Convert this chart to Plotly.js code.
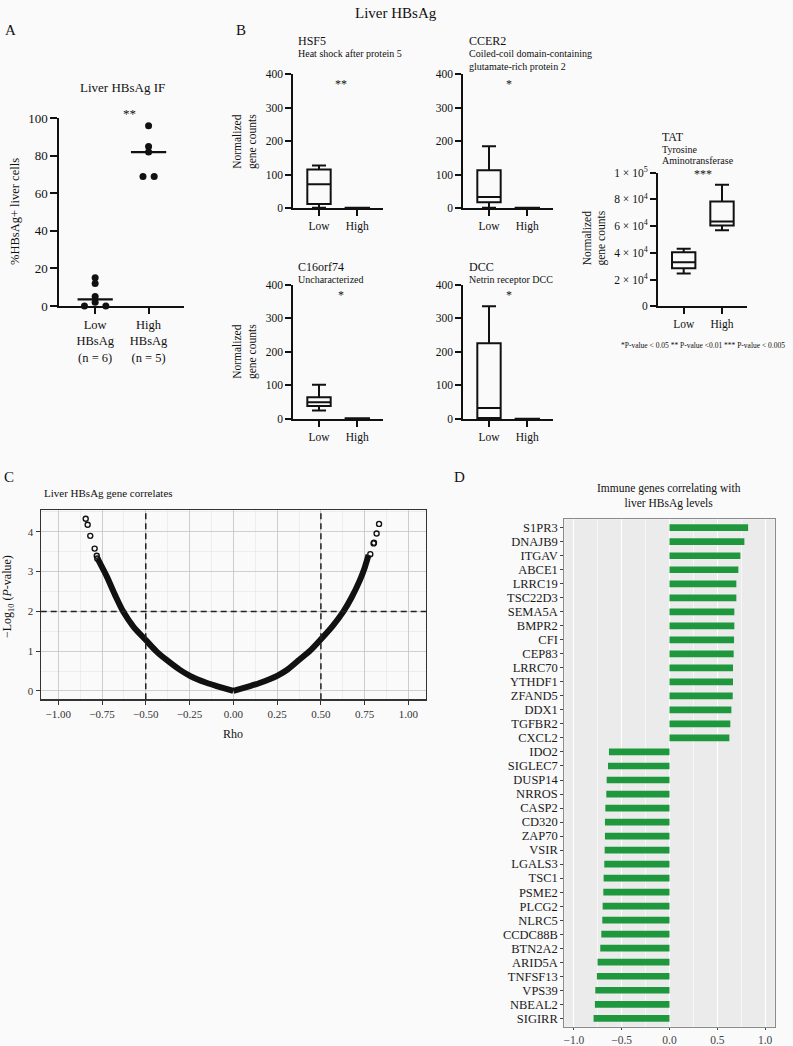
<!DOCTYPE html>
<html>
<head>
<meta charset="utf-8">
<script src="https://cdn.plot.ly/plotly-3.0.1.min.js"></script>
<style>
  html, body { margin: 0; padding: 0; background: #fafafa; }
  #chart { width: 793px; height: 1046px; }
</style>
</head>
<body>
<div id="chart"></div>
<script>
// ---------------- DATA ----------------
// Panel A: % HBsAg+ liver cells
const aGroups = ['Low<br>HBsAg<br>(n = 6)', 'High<br>HBsAg<br>(n = 5)'];
const aLow = [15, 12, 5, 2, 0, 0];
const aHigh = [96, 85, 82, 69, 69];

// Panel B: box stats [min, q1, median, q3, max]
const boxGroups = ['Low', 'High'];
const hsf5Low = [1, 12, 71, 115, 127];
const hsf5High = [0, 0, 0.5, 1, 1];
const ccer2Low = [1, 17, 33, 113, 184];
const ccer2High = [0, 0, 0.5, 1, 1];
const c16Low = [25, 39, 50, 65, 102];
const c16High = [0, 1, 1.5, 2, 2.5];
const dccLow = [0, 3, 33, 225, 335];
const dccHigh = [0, 0, 0.5, 1, 1];
const tatLow = [24500, 28500, 33000, 40500, 43000];
const tatHigh = [57000, 60500, 63500, 78500, 91000];
const boxTicks = [0, 100, 200, 300, 400];
const tatTickVals = [0, 20000, 40000, 60000, 80000, 100000];
const tatTickText = ['0', '2 × 10<sup>4</sup>', '4 × 10<sup>4</sup>', '6 × 10<sup>4</sup>', '8 × 10<sup>4</sup>', '1 × 10<sup>5</sup>'];

// Panel C: -log10(P) vs Rho
const cLeftRho = [-0.775, -0.76, -0.723, -0.675, -0.628, -0.571, -0.5, -0.438, -0.381, -0.305, -0.248, -0.21, -0.15, -0.1, -0.05, 0];
const cLeftVal = [3.33, 3.2, 2.88, 2.41, 1.99, 1.62, 1.28, 0.99, 0.78, 0.53, 0.38, 0.3, 0.2, 0.13, 0.065, 0];
const cRightRho = [0, 0.05, 0.1, 0.15, 0.21, 0.25, 0.31, 0.378, 0.44, 0.5, 0.57, 0.626, 0.675, 0.722, 0.75, 0.772];
const cRightVal = [0, 0.065, 0.13, 0.2, 0.3, 0.38, 0.54, 0.79, 1.02, 1.3, 1.65, 1.98, 2.35, 2.78, 3.1, 3.42];
const cOutRho = [-0.843, -0.832, -0.817, -0.792, -0.780, -0.777, 0.832, 0.818, 0.803, 0.801, 0.782];
const cOutVal = [4.33, 4.18, 3.9, 3.58, 3.4, 3.33, 4.2, 3.96, 3.73, 3.71, 3.44];
const cRhoCut = [-0.5, 0.5];
const cLogPCut = [2];

// Panel D: immune genes correlating with liver HBsAg
const dGenes = ['S1PR3','DNAJB9','ITGAV','ABCE1','LRRC19','TSC22D3','SEMA5A','BMPR2','CFI','CEP83','LRRC70','YTHDF1','ZFAND5','DDX1','TGFBR2','CXCL2',
  'IDO2','SIGLEC7','DUSP14','NRROS','CASP2','CD320','ZAP70','VSIR','LGALS3','TSC1','PSME2','PLCG2','NLRC5','CCDC88B','BTN2A2','ARID5A','TNFSF13','VPS39','NBEAL2','SIGIRR'];
const dRho = [0.822,0.783,0.741,0.72,0.699,0.699,0.678,0.678,0.675,0.671,0.664,0.664,0.661,0.647,0.636,0.626,
  -0.633,-0.643,-0.657,-0.661,-0.671,-0.675,-0.675,-0.678,-0.682,-0.689,-0.692,-0.699,-0.703,-0.713,-0.724,-0.752,-0.759,-0.776,-0.78,-0.794];

// ---------------- HELPERS ----------------
const W = 793, H = 1046;
const FONT = '"Liberation Serif", "DejaVu Serif", serif';
const INK = '#111';
const fx = p => p / W;
const fy = p => 1 - p / H;
const dX = (a, b) => [fx(a), fx(b)];
const dY = (top, bottom) => [fy(bottom), fy(top)];
const median = arr => { const s = [...arr].sort((a,b)=>a-b); const n = s.length; return n % 2 ? s[(n-1)/2] : (s[n/2-1] + s[n/2]) / 2; };

function boxTrace(lo, hi, xa, ya) {
  return {
    type: 'box', xaxis: xa, yaxis: ya, x: [0, 1],
    lowerfence: [lo[0], hi[0]], q1: [lo[1], hi[1]], median: [lo[2], hi[2]],
    q3: [lo[3], hi[3]], upperfence: [lo[4], hi[4]],
    width: 0.61, whiskerwidth: 0.6, boxpoints: false,
    line: { color: INK, width: 2 }, fillcolor: 'rgba(0,0,0,0)',
    hoverinfo: 'skip', showlegend: false
  };
}

function prismX(domain, anchor, ticktext, fontSize) {
  return {
    domain, anchor, range: [-0.671, 1.663], showline: true, linecolor: INK, linewidth: 2,
    ticks: 'outside', ticklen: 6, tickwidth: 2, tickcolor: INK,
    tickvals: [0, 1], ticktext, showgrid: false, zeroline: false,
    tickfont: { family: FONT, size: fontSize || 11.5, color: INK }, fixedrange: true
  };
}
function prismY(domain, anchor, range, extra) {
  return Object.assign({
    domain, anchor, range, showline: true, linecolor: INK, linewidth: 2,
    ticks: 'outside', ticklen: 6, tickwidth: 2, tickcolor: INK,
    showgrid: false, zeroline: false,
    tickfont: { family: FONT, size: 11.5, color: INK }, fixedrange: true
  }, extra || {});
}

function ann(text, x, y, size, opts) {
  return Object.assign({
    text, x: fx(x), y: fy(y), xref: 'paper', yref: 'paper', showarrow: false,
    xanchor: 'center', yanchor: 'middle',
    font: { family: FONT, size, color: INK }
  }, opts || {});
}

// ---------------- TRACES ----------------
const traces = [];

// Panel A
const aLowJit = [0, 0, 0, 0, -0.2, 0.2];
const aHighJit = [0, 0, 0, -0.105, 0.105];
traces.push({
  type: 'scatter', mode: 'markers', xaxis: 'x', yaxis: 'y',
  x: aLow.map((v, i) => 0 + aLowJit[i]), y: aLow,
  marker: { color: INK, size: 7 }, cliponaxis: false, hoverinfo: 'skip', showlegend: false
});
traces.push({
  type: 'scatter', mode: 'markers', xaxis: 'x', yaxis: 'y',
  x: aHigh.map((v, i) => 1 + aHighJit[i]), y: aHigh,
  marker: { color: INK, size: 7 }, cliponaxis: false, hoverinfo: 'skip', showlegend: false
});
[aLow, aHigh].forEach((arr, i) => {
  const m = median(arr);
  traces.push({
    type: 'scatter', mode: 'lines', xaxis: 'x', yaxis: 'y',
    x: [i - 0.33, i + 0.33], y: [m, m], line: { color: INK, width: 2.2 },
    cliponaxis: false, hoverinfo: 'skip', showlegend: false
  });
});

// Panel B
traces.push(boxTrace(hsf5Low, hsf5High, 'x2', 'y2'));
traces.push(boxTrace(ccer2Low, ccer2High, 'x3', 'y3'));
traces.push(boxTrace(c16Low, c16High, 'x4', 'y4'));
traces.push(boxTrace(dccLow, dccHigh, 'x5', 'y5'));
traces.push(boxTrace(tatLow, tatHigh, 'x6', 'y6'));

// Panel C
traces.push({ type: 'scatter', mode: 'lines', xaxis: 'x7', yaxis: 'y7', x: cLeftRho, y: cLeftVal,
  line: { color: INK, width: 6, shape: 'spline', smoothing: 0.8 }, hoverinfo: 'skip', showlegend: false });
traces.push({ type: 'scatter', mode: 'lines', xaxis: 'x7', yaxis: 'y7', x: cRightRho, y: cRightVal,
  line: { color: INK, width: 6, shape: 'spline', smoothing: 0.8 }, hoverinfo: 'skip', showlegend: false });
traces.push({ type: 'scatter', mode: 'markers', xaxis: 'x7', yaxis: 'y7', x: cOutRho, y: cOutVal,
  marker: { symbol: 'circle-open', size: 5, color: INK, line: { width: 1.4, color: INK } },
  hoverinfo: 'skip', showlegend: false });

// Panel D
traces.push({
  type: 'bar', orientation: 'h', xaxis: 'x8', yaxis: 'y8', x: dRho, y: dGenes,
  width: 0.48, marker: { color: '#1f983d', line: { width: 0 } }, hoverinfo: 'skip', showlegend: false
});

// ---------------- LAYOUT ----------------
const shapes = [];
// panel D grey background
shapes.push({ type: 'rect', xref: 'x8 domain', yref: 'y8 domain', x0: 0, x1: 1, y0: 0, y1: 1,
  fillcolor: '#ebebeb', line: { width: 0 }, layer: 'below' });
cRhoCut.forEach(v => shapes.push({ type: 'line', xref: 'x7', yref: 'y7 domain', x0: v, x1: v, y0: 0, y1: 1,
  line: { color: '#222', width: 1.5, dash: '6px,4px' }, layer: 'above' }));
cLogPCut.forEach(v => shapes.push({ type: 'line', xref: 'x7 domain', yref: 'y7', x0: 0, x1: 1, y0: v, y1: v,
  line: { color: '#222', width: 1.5, dash: '6px,4px' }, layer: 'above' }));

const cTickVals = [-1, -0.75, -0.5, -0.25, 0, 0.25, 0.5, 0.75, 1];

const layout = {
  width: W, height: H, margin: { l: 0, r: 0, t: 0, b: 0 },
  paper_bgcolor: '#fafafa', plot_bgcolor: 'rgba(0,0,0,0)',
  showlegend: false, font: { family: FONT, color: INK },
  shapes,

  // A
  xaxis: prismX(dX(59.3, 184), 'y', aGroups, 12.5),
  yaxis: prismY(dY(118.3, 306), 'x', [0, 100], { dtick: 20, ticklen: 7, tickfont: { family: FONT, size: 13, color: INK } }),

  // B
  xaxis2: prismX(dX(293.3, 382.7), 'y2', boxGroups),
  yaxis2: prismY(dY(74, 208), 'x2', [0, 400], { tickvals: boxTicks }),
  xaxis3: prismX(dX(463.3, 552.7), 'y3', boxGroups),
  yaxis3: prismY(dY(74, 208), 'x3', [0, 400], { tickvals: boxTicks }),
  xaxis4: prismX(dX(293.3, 382.7), 'y4', boxGroups),
  yaxis4: prismY(dY(284.5, 419), 'x4', [0, 400], { tickvals: boxTicks }),
  xaxis5: prismX(dX(463.3, 552.7), 'y5', boxGroups),
  yaxis5: prismY(dY(284.5, 419), 'x5', [0, 400], { tickvals: boxTicks }),
  xaxis6: prismX(dX(658, 747.4), 'y6', boxGroups),
  yaxis6: prismY(dY(172.7, 306.3), 'x6', [0, 100000], { tickvals: tatTickVals, ticktext: tatTickText }),

  // C
  xaxis7: {
    domain: dX(40.7, 426), anchor: 'y7', range: [-1.1, 1.1],
    tickvals: cTickVals, tickformat: '.2f',
    showline: true, mirror: true, linecolor: '#333', linewidth: 1.2,
    ticks: 'outside', ticklen: 4, tickwidth: 1, tickcolor: '#333',
    showgrid: true, gridcolor: '#c4c4c4', gridwidth: 0.8, zeroline: false,
    minor: { dtick: 0.125, tick0: 0, showgrid: true, gridcolor: '#e4e4e4', gridwidth: 0.6, ticks: '' },
    tickfont: { family: FONT, size: 11, color: '#333' }, fixedrange: true
  },
  yaxis7: {
    domain: dY(510, 699.3), anchor: 'x7', range: [-0.21, 4.55],
    dtick: 1, tick0: 0,
    showline: true, mirror: true, linecolor: '#333', linewidth: 1.2,
    ticks: 'outside', ticklen: 4, tickwidth: 1, tickcolor: '#333',
    showgrid: true, gridcolor: '#c4c4c4', gridwidth: 0.8, zeroline: false,
    minor: { dtick: 0.5, tick0: 0, showgrid: true, gridcolor: '#e4e4e4', gridwidth: 0.6, ticks: '' },
    tickfont: { family: FONT, size: 11, color: '#333' }, fixedrange: true
  },

  // D
  xaxis8: {
    domain: dX(564.3, 774.7), anchor: 'y8', range: [-1.1, 1.1],
    dtick: 0.5, tick0: 0, tickformat: '.1f',
    showline: true, mirror: true, linecolor: '#8a8a8a', linewidth: 1,
    ticks: 'outside', ticklen: 2, tickwidth: 1, tickcolor: '#444',
    showgrid: true, gridcolor: '#ffffff', gridwidth: 1.2, zeroline: false,
    minor: { dtick: 0.25, tick0: 0, showgrid: true, gridcolor: '#ffffff', gridwidth: 0.6, ticks: '' },
    tickfont: { family: FONT, size: 11.5, color: '#444' }, fixedrange: true
  },
  yaxis8: {
    domain: dY(519.3, 1026.7), anchor: 'x8', type: 'category',
    categoryorder: 'array', categoryarray: [...dGenes].reverse(), range: [-0.6, dGenes.length - 0.4],
    tickmode: 'array', tickvals: dGenes, ticktext: dGenes,
    showline: true, mirror: true, linecolor: '#8a8a8a', linewidth: 1,
    ticks: 'outside', ticklen: 3, tickwidth: 1, tickcolor: '#444',
    showgrid: false, zeroline: false,
    tickfont: { family: FONT, size: 12.5, color: '#1a1a1a' }, fixedrange: true
  },

  annotations: [
    ann('Liver HBsAg', 396, 13, 15),
    ann('A', 3, 30, 15, { xanchor: 'left' }),
    ann('B', 234, 30, 15, { xanchor: 'left' }),
    ann('C', 2, 477, 15, { xanchor: 'left' }),
    ann('D', 452, 477, 15, { xanchor: 'left' }),

    // A
    ann('Liver HBsAg IF', 122, 87, 13),
    ann('**', 129, 113, 13),
    ann('%HBsAg+ liver cells', 15, 212, 12.5, { textangle: -90 }),

    // B titles
    ann('HSF5', 296, 41, 12, { xanchor: 'left' }),
    ann('Heat shock after protein 5', 296, 54, 10, { xanchor: 'left' }),
    ann('CCER2', 466.5, 41, 12, { xanchor: 'left' }),
    ann('Coiled-coil domain-containing', 466.5, 54, 10, { xanchor: 'left' }),
    ann('glutamate-rich protein 2', 466.5, 66.5, 10, { xanchor: 'left' }),
    ann('C16orf74', 296, 267, 12, { xanchor: 'left' }),
    ann('Uncharacterized', 296, 279.5, 10, { xanchor: 'left' }),
    ann('DCC', 466.5, 267, 12, { xanchor: 'left' }),
    ann('Netrin receptor DCC', 466.5, 279.5, 10, { xanchor: 'left' }),
    ann('TAT', 660, 137, 12, { xanchor: 'left' }),
    ann('Tyrosine', 660, 149.5, 10, { xanchor: 'left' }),
    ann('Aminotransferase', 660, 161, 10, { xanchor: 'left' }),

    // B stars
    ann('**', 340.7, 84, 12),
    ann('*', 508.7, 84, 12),
    ann('*', 340.7, 295, 12),
    ann('*', 508.7, 295, 12),
    ann('***', 703.3, 174.5, 12),

    // B y titles
    ann('Normalized<br>gene counts', 244.5, 141.5, 11.5, { textangle: -90 }),
    ann('Normalized<br>gene counts', 244.5, 351.5, 11.5, { textangle: -90 }),
    ann('Normalized<br>gene counts', 594.5, 238, 11.5, { textangle: -90 }),

    ann('*P-value < 0.05 ** P-value <0.01 *** P-value < 0.005', 703, 346, 7.5),

    // C
    ann('Liver HBsAg gene correlates', 41.5, 493, 11, { xanchor: 'left' }),
    ann('\u2212Log<sub>10</sub> (<i>P</i>-value)', 8, 597, 12, { textangle: -90 }),
    ann('Rho', 233.5, 733.5, 12),

    // D
    ann('Immune genes correlating with<br>liver HBsAg levels', 669, 496, 11.5)
  ]
};

Plotly.newPlot('chart', traces, layout, { staticPlot: true, displayModeBar: false });
</script>
</body>
</html>
